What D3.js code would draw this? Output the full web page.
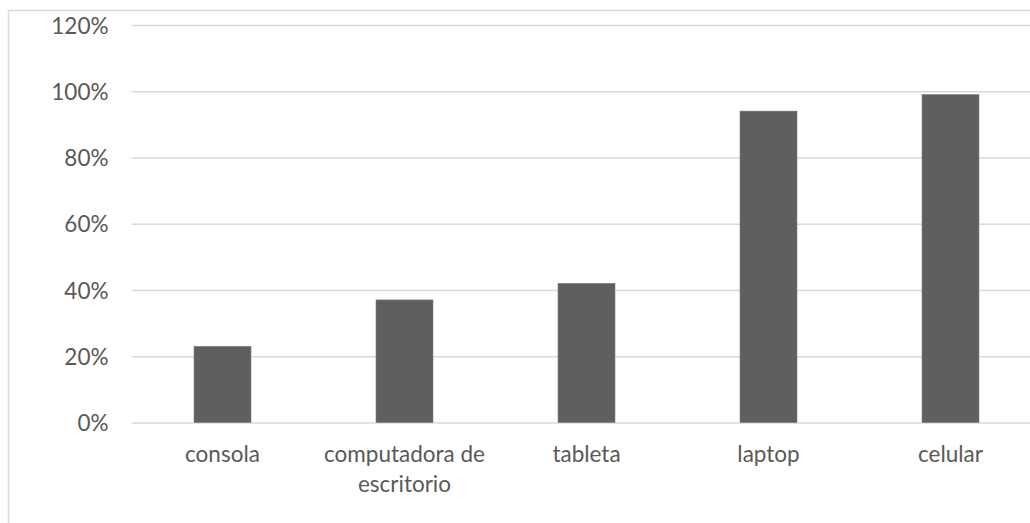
<!DOCTYPE html>
<html>
<head>
<meta charset="utf-8">
<script src="https://cdn.jsdelivr.net/npm/d3@7"></script>
<style>
  html, body { margin: 0; padding: 0; background: #fff; }
  svg { display: block; }
  text { font-family: Lato, "Noto Sans", sans-serif; fill: #595959; }
</style>
</head>
<body>
<svg id="chart" width="1030" height="523"></svg>
<script>
// Device ownership share by category
const categories = ["consola", "computadora de escritorio", "tableta", "laptop", "celular"];
const shares = [0.23, 0.37, 0.42, 0.94, 0.99];
const yTicks = [0, 0.2, 0.4, 0.6, 0.8, 1.0, 1.2];

const svg = d3.select("#chart");

// Chart frame (runs past the right and bottom edges of the view)
svg.append("rect")
  .attr("x", 8.5).attr("y", 10.5)
  .attr("width", 1060).attr("height", 560)
  .attr("fill", "none")
  .attr("stroke", "#d9d9d9")
  .attr("stroke-width", 1.5);

const plot = { left: 131.5, right: 1041.5, top: 25, bottom: 422.5 };

const y = d3.scaleLinear().domain([0, 1.2]).range([plot.bottom, plot.top]);
const x = d3.scaleBand()
  .domain(categories)
  .range([plot.left, plot.right])
  .paddingInner(0.687)
  .paddingOuter(0.3435);

// Horizontal gridlines + percent labels via a left axis
const yAxis = d3.axisLeft(y)
  .tickValues(yTicks)
  .tickFormat(d3.format(".0%"))
  .tickSize(-(plot.right - plot.left))
  .tickPadding(23);

const gy = svg.append("g")
  .attr("transform", `translate(${plot.left},0)`)
  .call(yAxis);
gy.select(".domain").remove();
gy.selectAll(".tick line")
  .attr("stroke", "#d9d9d9")
  .attr("stroke-width", 1.5);
gy.selectAll(".tick text")
  .attr("font-size", 22.5)
  .attr("dy", "0.36em")
  .style("fill", "#595959");

// Bars
svg.append("g")
  .selectAll("rect")
  .data(categories)
  .join("rect")
  .attr("x", d => x(d))
  .attr("width", x.bandwidth())
  .attr("y", (d, i) => y(shares[i]))
  .attr("height", (d, i) => y(0) - y(shares[i]))
  .attr("fill", "#5f5f5f")
  .attr("stroke", "#7a7a7a")
  .attr("stroke-width", 0.6);

// Category labels, long names wrapped onto two lines
const wrap = {
  "computadora de escritorio": ["computadora de", "escritorio"]
};
const xl = svg.append("g");
categories.forEach(c => {
  const lines = wrap[c] || [c];
  const t = xl.append("text")
    .attr("x", x(c) + x.bandwidth() / 2)
    .attr("y", 462)
    .attr("text-anchor", "middle")
    .attr("font-size", 22.5);
  lines.forEach((ln, i) => {
    t.append("tspan")
      .attr("x", x(c) + x.bandwidth() / 2)
      .attr("dy", i === 0 ? 0 : 29.5)
      .text(ln);
  });
});
</script>
</body>
</html>
